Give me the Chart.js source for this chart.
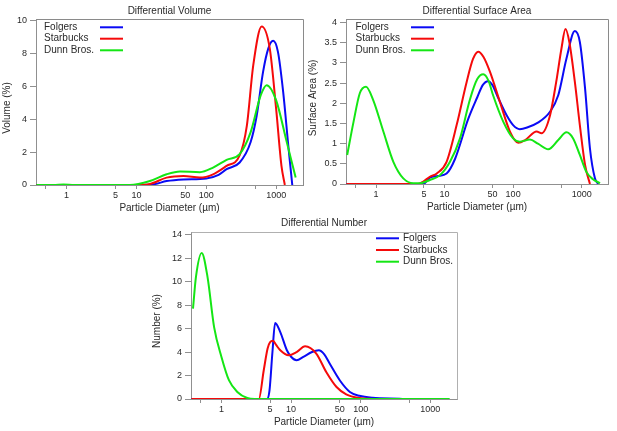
<!DOCTYPE html>
<html><head><meta charset="utf-8">
<script src="https://cdn.jsdelivr.net/npm/chart.js@4.4.1/dist/chart.umd.min.js"></script>
<style>html,body{margin:0;padding:0;background:#fff;overflow:hidden}canvas.c{position:absolute;left:0;top:0}</style>
</head><body>
<canvas id="c1" class="c" width="617" height="431"></canvas>
<canvas id="c2" class="c" width="617" height="431"></canvas>
<canvas id="c3" class="c" width="617" height="431"></canvas>
<script>
// ---- data ----
const seriesNames = ['Folgers', 'Starbucks', 'Dunn Bros.'];
const xTickValues = [0.5, 1, 5, 10, 50, 100, 500, 1000];
const xTickLabels = ['', '1', '5', '10', '50', '100', '', '1000'];
const volTicks = [0, 2, 4, 6, 8, 10];
const saTicks = [0, 0.5, 1, 1.5, 2, 2.5, 3, 3.5, 4];
const numTicks = [0, 2, 4, 6, 8, 10, 12, 14];

const volFolgers = [[0.37,0],[12,0],[18,0.05],[27,0.24],[47,0.34],[100,0.4],[150,0.62],[195,0.96],[300,1.37],[430,2.6],[525,4.2],[650,6.9],[770,8.3],[905,8.77],[1060,8.1],[1260,5.65],[1490,2.4],[1700,0]];
const volStarbucks = [[0.37,0],[10,0],[15.6,0.06],[27,0.45],[47,0.55],[81,0.45],[125,0.65],[195,1.16],[300,1.8],[380,3.6],[470,7.3],[620,9.65],[810,8.3],[1000,4.6],[1190,1.16],[1330,0]];
const volDunn = [[0.37,0],[0.65,0],[0.9,0.03],[1.3,0],[8,0],[15.6,0.24],[27,0.65],[42,0.82],[81,0.78],[125,1.06],[195,1.53],[300,1.88],[430,3.2],[600,5.45],[730,6.07],[1000,5.15],[1400,2.7],[1900,0.45]];

const saFolgers = [[0.37,0],[4.9,0],[6.1,0.16],[8,0.2],[10.7,0.26],[14.2,0.62],[22,1.6],[30,2.15],[36,2.45],[43,2.55],[50,2.45],[60,2.15],[80,1.71],[100,1.46],[125,1.36],[160,1.4],[230,1.52],[345,1.79],[455,2.2],[600,3.11],[795,3.79],[940,3.52],[1120,2.37],[1320,0.88],[1560,0.14],[1740,0]];
const saStarbucks = [[0.37,0],[4.1,0],[4.9,0.06],[6.1,0.18],[7.7,0.26],[10.7,0.55],[15,1.46],[21,2.53],[26,3.1],[31,3.28],[37,3.15],[46,2.78],[64,2.04],[90,1.3],[119,1.02],[150,1.09],[220,1.3],[260,1.26],[345,1.7],[425,2.53],[507,3.36],[580,3.84],[660,3.52],[795,2.53],[940,1.46],[1120,0.47],[1320,0]];
const saDunn = [[0.38,0.72],[0.47,1.54],[0.58,2.25],[0.715,2.41],[0.91,2.08],[1.28,1.3],[1.79,0.55],[2.5,0.14],[3.5,0.02],[4.4,0.02],[6.1,0.1],[8.6,0.22],[12,0.55],[16.8,1.13],[23.5,2.1],[30,2.6],[36.7,2.72],[44,2.55],[51,2.2],[72,1.54],[100,1.13],[125,1.05],[176,1.1],[230,1.0],[325,0.86],[455,1.09],[600,1.28],[750,1.13],[940,0.72],[1170,0.3],[1460,0.12],[1850,0.02]];

const numFolgers = [[0.37,0],[4.5,0],[4.9,0.74],[5.4,4.0],[5.9,6.47],[7.0,5.7],[8.7,4.15],[10,3.6],[12,3.3],[15,3.58],[20,4.0],[25,4.15],[30,3.8],[36,3.0],[50,1.6],[70,0.6],[96,0.27],[148,0.1],[360,0.02],[420,0]];
const numStarbucks = [[0.37,0],[3.44,0],[4.05,2.45],[4.6,4.3],[5.0,4.85],[5.5,4.95],[6.1,4.6],[7.0,4.15],[9.2,3.72],[12,4.0],[15.9,4.49],[23,3.87],[32,2.3],[45,1.02],[62,0.4],[96,0.08],[150,0]];
const numDunn = [[0.39,7.7],[0.43,10.4],[0.52,12.44],[0.63,10.4],[0.785,6.1],[1,3.58],[1.28,1.6],[1.69,0.6],[2.35,0.08],[3,0],[1900,0]];

// ---- styling ----
const FONT = '"Liberation Sans", Arial, sans-serif';
const colors = ['#0a0af5', '#f50a0a', '#14e614'];
const axisColor = '#909090';
const textColor = '#2a2a2a';
const X_MIN = 0.365, X_MAX = 2420;
const Y_W = 30, X_H = 26;

const decor = {
  id: 'decor',
  afterDraw(chart) {
    const s = chart.options.plugins.decor;
    const ctx = chart.ctx, a = chart.chartArea;
    ctx.save();
    ctx.strokeStyle = s.frameColor; ctx.lineWidth = 1;
    ctx.beginPath();
    ctx.moveTo(Math.round(a.left) + 0.5, Math.round(a.top) + 0.5);
    ctx.lineTo(Math.round(a.right) + 0.5, Math.round(a.top) + 0.5);
    ctx.lineTo(Math.round(a.right) + 0.5, Math.round(a.bottom) + 0.5);
    ctx.stroke();
    ctx.fillStyle = textColor;
    ctx.font = '10px ' + FONT;
    ctx.textAlign = 'center'; ctx.textBaseline = 'middle';
    ctx.fillText(s.title[0], s.title[1], s.title[2]);
    ctx.fillText(s.xTitle[0], s.xTitle[1], s.xTitle[2]);
    ctx.save();
    ctx.translate(s.yTitle[1], s.yTitle[2]);
    ctx.rotate(-Math.PI / 2);
    ctx.fillText(s.yTitle[0], 0, 0);
    ctx.restore();
    const L = s.legend;
    ctx.textAlign = 'left';
    chart.data.datasets.forEach((d, i) => {
      const y = L.rows[i];
      ctx.fillStyle = textColor;
      ctx.fillText(d.label, L.textX, y);
      ctx.strokeStyle = d.borderColor; ctx.lineWidth = 2;
      ctx.beginPath(); ctx.moveTo(L.x1, y); ctx.lineTo(L.x2, y); ctx.stroke();
    });
    ctx.restore();
  }
};

function build(id, spec) {
  const datasets = spec.series.map((pts, i) => ({
    label: seriesNames[i],
    data: pts.map(p => ({x: p[0], y: p[1]})),
    borderColor: colors[i], backgroundColor: colors[i],
    borderWidth: 2, pointRadius: 0, fill: false,
    cubicInterpolationMode: 'monotone', order: [2, 1, 0][i]
  }));
  const tickFont = {family: FONT, size: 9};
  return new Chart(document.getElementById(id), {
    type: 'line',
    data: {datasets},
    options: {
      responsive: false, animation: false, devicePixelRatio: 1,
      events: [],
      layout: {padding: {left: spec.l - Y_W, top: spec.t, right: 617 - spec.r, bottom: 431 - spec.b - X_H}},
      plugins: {legend: {display: false}, tooltip: {enabled: false}, title: {display: false}, decor: spec.decor},
      scales: {
        x: {
          type: 'logarithmic', min: X_MIN, max: X_MAX,
          afterBuildTicks: s => { s.ticks = xTickValues.map(v => ({value: v})); },
          afterFit: s => { s.height = X_H; },
          ticks: {autoSkip: false, maxRotation: 0, font: tickFont, color: textColor, padding: 1,
                  callback: v => xTickLabels[xTickValues.indexOf(v)] || ''},
          grid: {drawOnChartArea: false, tickLength: 4, color: axisColor},
          border: {color: axisColor}
        },
        y: {
          type: 'linear', min: 0, max: spec.yMax,
          afterBuildTicks: s => { s.ticks = spec.yTicks.map(v => ({value: v})); },
          afterFit: s => { s.width = Y_W; },
          ticks: {font: tickFont, color: textColor, padding: 3, callback: v => String(v)},
          grid: {drawOnChartArea: false, tickLength: 6, color: axisColor},
          border: {color: axisColor}
        }
      }
    },
    plugins: [decor]
  });
}

build('c1', {
  l: 36, r: 303, t: 19, b: 185, yMax: 10.1, yTicks: volTicks,
  series: [volFolgers, volStarbucks, volDunn],
  decor: {frameColor: '#8a8a8a', title: ['Differential Volume', 169.5, 11.5],
    xTitle: ['Particle Diameter (\u00b5m)', 169.5, 208.5], yTitle: ['Volume (%)', 7.5, 108],
    legend: {textX: 44, x1: 100, x2: 123, rows: [27.3, 38.7, 50.3]}}
});
build('c2', {
  l: 346, r: 608, t: 19, b: 184, yMax: 4.09, yTicks: saTicks,
  series: [saFolgers, saStarbucks, saDunn],
  decor: {frameColor: '#8a8a8a', title: ['Differential Surface Area', 477, 11.5],
    xTitle: ['Particle Diameter (\u00b5m)', 477, 207.5], yTitle: ['Surface Area (%)', 313, 98],
    legend: {textX: 355.5, x1: 411, x2: 434, rows: [27.3, 38.7, 50.3]}}
});
build('c3', {
  l: 191, r: 457, t: 232, b: 399, yMax: 14.22, yTicks: numTicks,
  series: [numFolgers, numStarbucks, numDunn],
  decor: {frameColor: '#b0b0b0', title: ['Differential Number', 324, 223],
    xTitle: ['Particle Diameter (\u00b5m)', 324, 422.5], yTitle: ['Number (%)', 157, 321],
    legend: {textX: 403, x1: 376, x2: 399, rows: [238.3, 250, 261.7]}}
});
</script>
</body></html>
